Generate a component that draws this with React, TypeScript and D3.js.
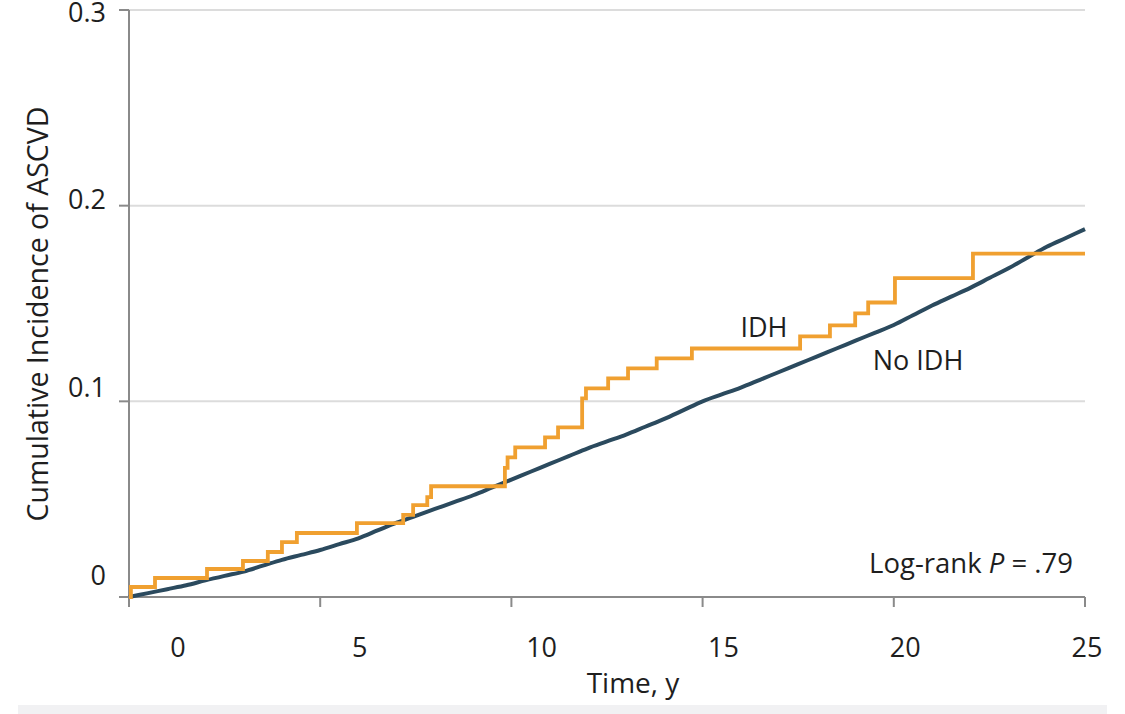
import React from "react";
import * as d3 from "d3";

// No IDH cumulative incidence (time in years, value)
const noIdhTimes = [0, 0.5, 1, 1.5, 2, 2.5, 3, 3.5, 4, 4.5, 5, 5.5, 6, 6.5, 7, 7.5, 8, 8.5, 9, 9.5, 10, 10.5, 11, 11.5, 12, 12.5, 13, 13.5, 14, 14.5, 15, 15.5, 16, 16.5, 17, 17.5, 18, 18.5, 19, 19.5, 20, 20.5, 21, 21.5, 22, 22.5, 23, 23.5, 24, 24.5, 25];
const noIdhValues = [0, 0.002, 0.004, 0.006, 0.0085, 0.0108, 0.013, 0.016, 0.019, 0.0215, 0.024, 0.027, 0.030, 0.034, 0.038, 0.0415, 0.045, 0.0485, 0.052, 0.056, 0.060, 0.064, 0.068, 0.072, 0.076, 0.0795, 0.083, 0.087, 0.091, 0.0955, 0.100, 0.1035, 0.107, 0.111, 0.115, 0.119, 0.123, 0.127, 0.131, 0.135, 0.139, 0.144, 0.149, 0.1535, 0.158, 0.163, 0.168, 0.1735, 0.179, 0.1835, 0.188];

// IDH step function (time of step, value after step)
const idhTimes = [0, 0.05, 0.68, 2.04, 2.98, 3.63, 4.0, 4.39, 5.96, 7.17, 7.43, 7.8, 7.9, 9.83, 9.9, 10.1, 10.88, 11.22, 11.85, 11.95, 12.53, 13.05, 13.8, 14.72, 17.55, 18.33, 18.99, 19.33, 20.03, 22.07, 25];
const idhValues = [0, 0.0051, 0.0097, 0.0143, 0.0184, 0.023, 0.028, 0.0327, 0.0378, 0.042, 0.047, 0.051, 0.0566, 0.066, 0.0714, 0.0765, 0.0816, 0.0867, 0.1015, 0.1066, 0.1117, 0.1168, 0.122, 0.127, 0.1332, 0.1388, 0.145, 0.1505, 0.163, 0.1755, 0.1755];

const xTicks = [0, 5, 10, 15, 20, 25];
const yTicks = [0, 0.1, 0.2, 0.3];
const yTickLabels = ["0", "0.1", "0.2", "0.3"];

const FONT = "'Open Sans', 'Noto Sans', sans-serif";

export default function App() {
  const x = d3.scaleLinear().domain([0, 25]).range([129, 1085]);
  const y = d3.scaleLinear().domain([0, 0.3]).range([597, 10]);
  // tick label placement as in the reference (offset from tick marks)
  const xLab = d3.scaleLinear().domain([0, 25]).range([178, 1087]);
  const yLab = d3.scaleLinear().domain([0, 0.3]).range([574, 11]);

  const noIdh = noIdhTimes.map((t, i) => [t, noIdhValues[i]] as [number, number]);
  const idh = idhTimes.map((t, i) => [t, idhValues[i]] as [number, number]);

  const lineSmooth = d3.line<[number, number]>().x(d => x(d[0])).y(d => y(d[1])).curve(d3.curveMonotoneX);
  const lineStep = d3.line<[number, number]>().x(d => x(d[0])).y(d => y(d[1])).curve(d3.curveStepAfter);

  const axisColor = "#8a8a8a";
  const textColor = "#1e1e1e";

  return (
    <svg width={1125} height={714} style={{ position: "absolute", left: 0, top: 0, background: "#fff" }} fontFamily={FONT}>
      <rect x={0} y={0} width={1125} height={714} fill="#fff" />
      <rect x={18} y={705} width={1089} height={9} fill="#f1f1f3" />
      {/* gridlines */}
      {yTicks.filter(v => v > 0).map(v => (
        <line key={"g" + v} x1={x(0)} x2={x(25)} y1={y(v)} y2={y(v)} stroke="#dcdcdc" strokeWidth={2} />
      ))}
      {/* y axis */}
      <line x1={x(0)} x2={x(0)} y1={y(0.3)} y2={y(0) + 10} stroke={axisColor} strokeWidth={2} />
      {yTicks.map(v => (
        <line key={"yt" + v} x1={x(0) - 10} x2={x(0)} y1={y(v)} y2={y(v)} stroke={axisColor} strokeWidth={2} />
      ))}
      {yTicks.map((v, i) => (
        <text key={"yl" + v} x={106} y={yLab(v)} textAnchor="end" dominantBaseline="central" fontSize={27} fill={textColor}>{yTickLabels[i]}</text>
      ))}
      {/* x axis */}
      <line x1={x(0) - 10} x2={x(25)} y1={y(0)} y2={y(0)} stroke={axisColor} strokeWidth={2} />
      {xTicks.map(v => (
        <line key={"xt" + v} x1={x(v)} x2={x(v)} y1={y(0)} y2={y(0) + 10} stroke={axisColor} strokeWidth={2} />
      ))}
      {xTicks.map(v => (
        <text key={"xl" + v} x={xLab(v)} y={657} textAnchor="middle" fontSize={27} fill={textColor}>{v}</text>
      ))}
      <text x={633} y={693} textAnchor="middle" fontSize={28} fill={textColor}>Time, y</text>
      <text transform={`translate(48,314) rotate(-90)`} textAnchor="middle" fontSize={28.5} fill={textColor}>Cumulative Incidence of ASCVD</text>
      {/* curves */}
      <path d={lineSmooth(noIdh) || ""} fill="none" stroke="#2b4a5e" strokeWidth={4} />
      <path d={lineStep(idh) || ""} fill="none" stroke="#f0a030" strokeWidth={3.8} />
      {/* labels */}
      <text x={764} y={337} textAnchor="middle" fontSize={27} fill={textColor}>IDH</text>
      <text x={918} y={370} textAnchor="middle" fontSize={27} fill={textColor}>No IDH</text>
      <text x={1073} y={573} textAnchor="end" fontSize={27.5} fill={textColor}>
        Log-rank <tspan fontStyle="italic">P</tspan> = .79
      </text>
    </svg>
  );
}
